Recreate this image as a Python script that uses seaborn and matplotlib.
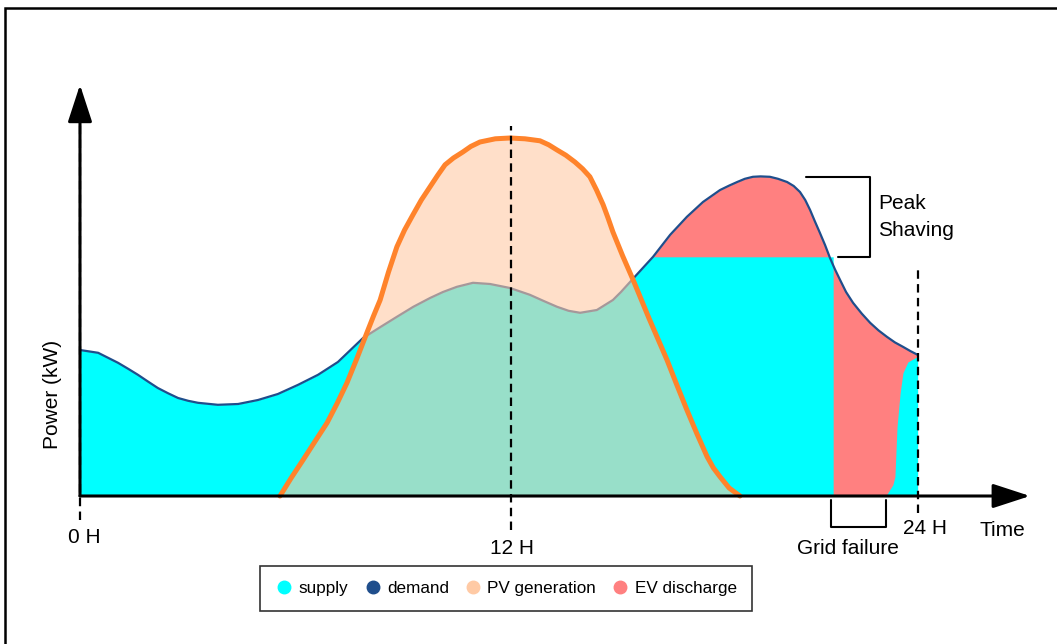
import matplotlib.pyplot as plt
import seaborn as sns
import pandas as pd
from matplotlib.lines import Line2D
from matplotlib.patches import Rectangle

# demand profile (hours, kW)
hours_demand = [0.0, 0.52, 1.09, 1.38, 1.66, 1.95, 2.23, 2.52, 2.81, 3.10, 3.38, 3.95,
                4.53, 5.10, 5.67, 6.25, 6.82, 7.39, 8.11, 8.60, 9.08, 9.55, 10.03, 10.40,
                10.80, 11.26, 11.75, 12.32, 12.89, 13.30, 13.67, 14.00, 14.33, 14.81,
                15.27, 15.50, 15.76, 16.42, 16.91, 17.39, 17.85, 18.34, 18.60, 18.83,
                19.05, 19.28, 19.50, 19.77, 20.00, 20.26, 20.45, 20.63, 20.78, 20.92,
                21.05, 21.20, 21.35, 21.49, 21.63, 21.78, 21.95, 22.15, 22.40, 22.64,
                22.88, 23.12, 23.35, 23.58, 23.80, 24.0]
demand_kw = [3.65, 3.58, 3.33, 3.18, 3.03, 2.86, 2.70, 2.57, 2.45, 2.38, 2.33, 2.28,
             2.30, 2.40, 2.55, 2.78, 3.03, 3.35, 3.95, 4.22, 4.48, 4.73, 4.95, 5.10,
             5.23, 5.33, 5.30, 5.20, 5.03, 4.87, 4.73, 4.63, 4.58, 4.65,
             4.90, 5.10, 5.35, 5.98, 6.53, 6.98, 7.35, 7.65, 7.76, 7.85,
             7.93, 7.98, 7.99, 7.98, 7.93, 7.85, 7.75, 7.60, 7.40, 7.15,
             6.88, 6.58, 6.27, 5.95, 5.67, 5.40, 5.10, 4.83, 4.56, 4.33,
             4.14, 3.98, 3.84, 3.73, 3.62, 3.53]

# grid supply after the peak cap starts: capped, cut by grid failure, then restored
supply_tail_hours = [21.58, 21.58, 23.09, 23.29, 23.35, 23.41, 23.50, 23.58, 23.72, 23.98, 24.0]
supply_tail_kw = [5.98, 0.0, 0.0, 0.28, 0.48, 1.73, 2.58, 3.08, 3.35, 3.48, 3.53]

# PV generation bell
hours_pv = [5.73, 6.05, 6.39, 6.73, 7.08, 7.37, 7.65, 7.93, 8.22, 8.41, 8.60, 8.84,
            9.08, 9.30, 9.54, 9.78, 10.03, 10.25, 10.46, 10.70, 10.97, 11.20, 11.46,
            11.90, 12.32, 12.75, 13.18, 13.43, 13.67, 13.92, 14.18, 14.40, 14.61,
            14.80, 14.99, 15.13, 15.27, 15.55, 15.85, 16.30, 16.82, 17.10, 17.39,
            17.68, 17.97, 18.15, 18.34, 18.60, 18.91]
pv_kw = [0.0, 0.45, 0.90, 1.36, 1.83, 2.32, 2.83, 3.43, 4.08, 4.50, 4.90, 5.60,
         6.23, 6.65, 7.03, 7.40, 7.73, 8.02, 8.28, 8.45, 8.60, 8.74, 8.85,
         8.93, 8.95, 8.93, 8.88, 8.78, 8.65, 8.52, 8.35, 8.18, 7.98,
         7.65, 7.28, 6.95, 6.60, 6.00, 5.40, 4.45, 3.40, 2.78, 2.15,
         1.55, 0.98, 0.70, 0.48, 0.20, 0.0]

ev_start = 16.42
mark_hours = [0.0, 12.35, 24.0]
mark_labels = ['0 H', '12 H', '24 H']
legend_labels = ['supply', 'demand', 'PV generation', 'EV discharge']
colors = ['#00ffff', '#1f4e8c', '#ffcaa5', '#ff8080']

df_demand = pd.DataFrame({'hour': hours_demand, 'kw': demand_kw})
df_pv = pd.DataFrame({'hour': hours_pv, 'kw': pv_kw})
df_ev = df_demand[df_demand['hour'] >= ev_start]
head = df_demand[df_demand['hour'] <= ev_start]
supply_hours = list(head['hour']) + supply_tail_hours
supply_kw = list(head['kw']) + supply_tail_kw

sns.set_style("white")
plt.rcParams['font.family'] = ['Liberation Sans', 'DejaVu Sans']
plt.rcParams['text.color'] = 'black'

fig = plt.figure(figsize=(10.57, 6.44), dpi=100)
ax = fig.add_axes([0, 0, 1, 1])
ax.set_xlim(-2.292, 27.994)
ax.set_ylim(-3.7, 12.4)
ax.axis('off')

# fills
ax.fill_between(df_ev['hour'], 0, df_ev['kw'], color=colors[3], lw=0)
ax.fill_between(supply_hours, 0, supply_kw, color=colors[0], lw=0)
sns.lineplot(data=df_demand, x='hour', y='kw', ax=ax, color=colors[1], lw=1.6,
             legend=False, solid_joinstyle='round')
ax.fill_between(df_pv['hour'], 0, df_pv['kw'], color=colors[2], alpha=0.6, lw=0, zorder=3)
sns.lineplot(data=df_pv, x='hour', y='kw', ax=ax, color='#ff832b', lw=3.6, legend=False,
             zorder=4, solid_joinstyle='round')

# dashed time markers
dash_tops = [10.0, 9.25, 5.7]
dash_bottoms = [-0.6, -0.85, -0.43]
for h, lo, top in zip(mark_hours, dash_bottoms, dash_tops):
    ax.plot([h, h], [lo, top], color='black', lw=1.6, ls=(0, (3.8, 2.4)), zorder=5)

# axes arrows
arrow = dict(arrowstyle='-|>,head_length=2.3,head_width=0.75', mutation_scale=10,
             lw=2.2, color='black', shrinkA=0, shrinkB=0)
ax.annotate('', xy=(27.22, 0), xytext=(0, 0), arrowprops=arrow, zorder=6)
ax.annotate('', xy=(0, 10.28), xytext=(0, 0), arrowprops=arrow, zorder=6)

# labels
fs = 15
ax.text(0.11, -1.03, mark_labels[0], fontsize=fs, ha='center', va='center')
ax.text(12.38, -1.3, mark_labels[1], fontsize=fs, ha='center', va='center')
ax.text(24.21, -0.8, mark_labels[2], fontsize=fs, ha='center', va='center')
ax.text(26.42, -0.85, 'Time', fontsize=fs, ha='center', va='center')
ax.text(-0.80, 2.53, 'Power (kW)', fontsize=fs, ha='center', va='center', rotation=90)
ax.text(22.87, 6.97, 'Peak\nShaving', fontsize=fs, ha='left', va='center', linespacing=1.5)
ax.text(22.0, -1.3, 'Grid failure', fontsize=fs, ha='center', va='center')

# brackets
ax.plot([20.80, 22.64, 22.64, 21.72], [7.98, 7.98, 5.98, 5.98], color='black', lw=1.5)
ax.plot([21.52, 21.52, 23.09, 23.09], [-0.1, -0.78, -0.78, -0.1], color='black', lw=1.5)

# legend
handles = [Line2D([], [], marker='o', ls='', markersize=9, color=c) for c in colors]
leg = ax.legend(handles, legend_labels, ncol=4, loc='center', bbox_to_anchor=(0.479, 0.086),
                fontsize=12.3, frameon=True, fancybox=False, edgecolor='black',
                handletextpad=0.35, columnspacing=0.9, handlelength=1.0,
                borderpad=0.9)
leg.get_frame().set_linewidth(1.2)

# outer frame
fig.patches.append(Rectangle((0.0043, -0.05), 1.2, 1.038, transform=fig.transFigure,
                             fill=False, edgecolor='black', lw=1.8))

plt.savefig('out.png', dpi=100)
